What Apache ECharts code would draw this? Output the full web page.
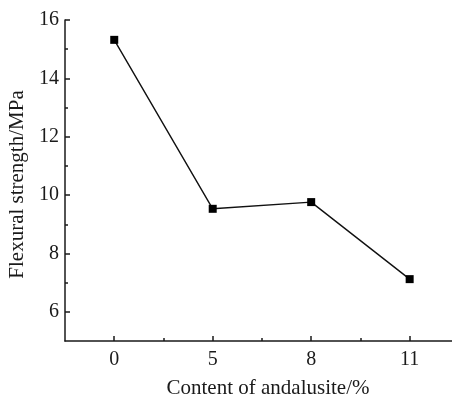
<!DOCTYPE html>
<html>
<head>
<meta charset="utf-8">
<script src="https://cdn.jsdelivr.net/npm/echarts@6/dist/echarts.min.js"></script>
<style>
  html, body { margin: 0; padding: 0; background: #fff; }
  #chart { width: 452px; height: 399px; }
</style>
</head>
<body>
<div id="chart"></div>
<script>
// data
const contents = ['0', '5', '8', '11']
const strength = [15.32, 9.53, 9.76, 7.12]
const yLabels = [6, 8, 10, 12, 14, 16]
const yMinor = [7, 9, 11, 13, 15]

const font = 'Liberation Serif'
const ink = '#1a1a1a'

// categories sit at 0..3, the axis runs past the right edge
const xPos = contents.map((c, i) => i)
const xBounds = xPos.slice(1).map(i => i - 0.5)

const chart = echarts.init(document.getElementById('chart'))
chart.setOption({
  animation: false,
  grid: { left: 65, right: 0, top: 20, bottom: 58, outerBoundsMode: 'none' },
  xAxis: [
    {
      type: 'value',
      min: -0.5,
      max: 3.43,
      name: 'Content of andalusite/%',
      nameLocation: 'middle',
      nameGap: 37,
      nameTextStyle: { fontFamily: font, fontSize: 21, color: ink, padding: [0, 0, 0, 19] },
      axisLine: { show: true, onZero: false, lineStyle: { color: ink, width: 1.5 } },
      axisTick: { show: true, inside: true, length: 5, customValues: xPos, lineStyle: { color: ink, width: 1.5 } },
      axisLabel: { fontFamily: font, fontSize: 20, color: ink, margin: 9, customValues: xPos, formatter: v => contents[v] },
      splitLine: { show: false }
    },
    {
      type: 'value',
      min: -0.5,
      max: 3.43,
      position: 'bottom',
      axisLine: { show: false, onZero: false },
      axisTick: { show: true, inside: true, length: 3, customValues: xBounds, lineStyle: { color: ink, width: 1.5 } },
      axisLabel: { show: false },
      splitLine: { show: false }
    }
  ],
  yAxis: [
    {
      type: 'value',
      min: 5,
      max: 16,
      name: 'Flexural strength/MPa',
      nameLocation: 'middle',
      nameGap: 27,
      nameTextStyle: { fontFamily: font, fontSize: 21, color: ink, padding: [0, 8, 0, 0] },
      axisLine: { show: true, onZero: false, lineStyle: { color: ink, width: 1.5 } },
      axisTick: { show: true, inside: true, length: 5, customValues: yLabels, lineStyle: { color: ink, width: 1.5 } },
      axisLabel: { fontFamily: font, fontSize: 20, color: ink, margin: 6, customValues: yLabels },
      splitLine: { show: false }
    },
    {
      type: 'value',
      min: 5,
      max: 16,
      position: 'left',
      axisLine: { show: false, onZero: false },
      axisTick: { show: true, inside: true, length: 3, customValues: yMinor, lineStyle: { color: ink, width: 1.5 } },
      axisLabel: { show: false },
      splitLine: { show: false }
    }
  ],
  series: [
    {
      type: 'line',
      data: strength.map((v, i) => [xPos[i], v]),
      symbol: 'rect',
      symbolSize: 8,
      itemStyle: { color: '#000' },
      lineStyle: { color: '#111', width: 1.4 }
    }
  ]
})
</script>
</body>
</html>
